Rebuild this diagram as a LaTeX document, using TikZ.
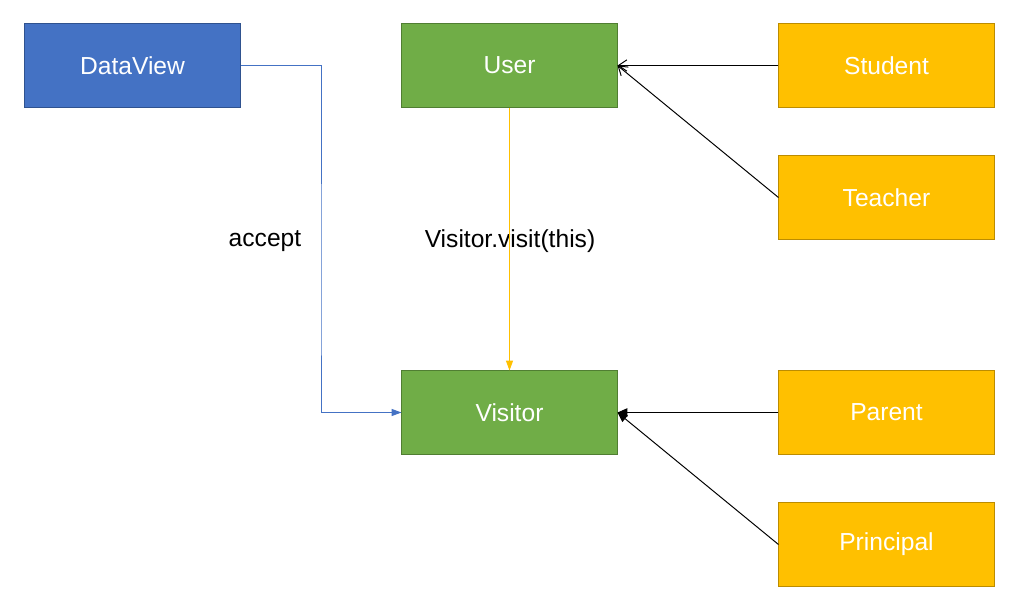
\documentclass[tikz,border=0pt]{standalone}
\usepackage{fontspec}
\setmainfont{Liberation Sans}
\usetikzlibrary{arrows.meta}
\definecolor{viewblue}{HTML}{4472C4}
\definecolor{viewline}{HTML}{2F528F}
\definecolor{usergreen}{HTML}{70AD47}
\definecolor{userline}{HTML}{507E32}
\definecolor{roleyellow}{HTML}{FFC000}
\definecolor{roleline}{HTML}{BC8C00}
\begin{document}
\begin{tikzpicture}[x=0.025cm,y=-0.025cm,line width=0.7pt,
  box/.style={minimum width=5.375cm,minimum height=2.075cm,
    text=white,font=\fontsize{17.5}{20}\selectfont,inner sep=0pt},
  viewbox/.style={box,fill=viewblue,draw=viewline},
  classbox/.style={box,fill=usergreen,draw=userline},
  rolebox/.style={box,fill=roleyellow,draw=roleline},
  label/.style={font=\fontsize{17.5}{20}\selectfont}]
  \useasboundingbox (0,0) rectangle (1022,611);
  \node[viewbox] (dataview) at (132.5,65.5) {DataView};
  \node[classbox] (user) at (509.5,65.5) {User};
  \node[classbox] (visitor) at (509.5,412.5) {Visitor};
  \node[rolebox] (student) at (886.5,65.5) {Student};
  \node[rolebox] (teacher) at (886.5,197.5) {Teacher};
  \node[rolebox] (parent) at (886.5,412.5) {Parent};
  \node[rolebox] (principal) at (886.5,544.5) {Principal};
  \node[label] (accept) at (265,241) {accept};
  \node[label] (visit) at (510,241) {Visitor.visit(this)};
  % connectors
  \draw[viewblue,-{Triangle[length=7pt,width=5pt]}] (dataview.east) -| (321,300) |- (visitor.west);
  \draw[roleyellow,-{Triangle[length=7pt,width=5pt]}] (user.south) -- (visitor.north);
  \draw[-{Straight Barb[length=6pt,width=8pt]}] (student.west) -- (user.east);
  \draw[-{Straight Barb[length=6pt,width=8pt]}] (teacher.west) -- (user.east);
  \draw[-{Triangle[length=7pt,width=6pt]}] (parent.west) -- (visitor.east);
  \draw[-{Triangle[length=7pt,width=6pt]}] (principal.west) -- (visitor.east);
\end{tikzpicture}
\end{document}
